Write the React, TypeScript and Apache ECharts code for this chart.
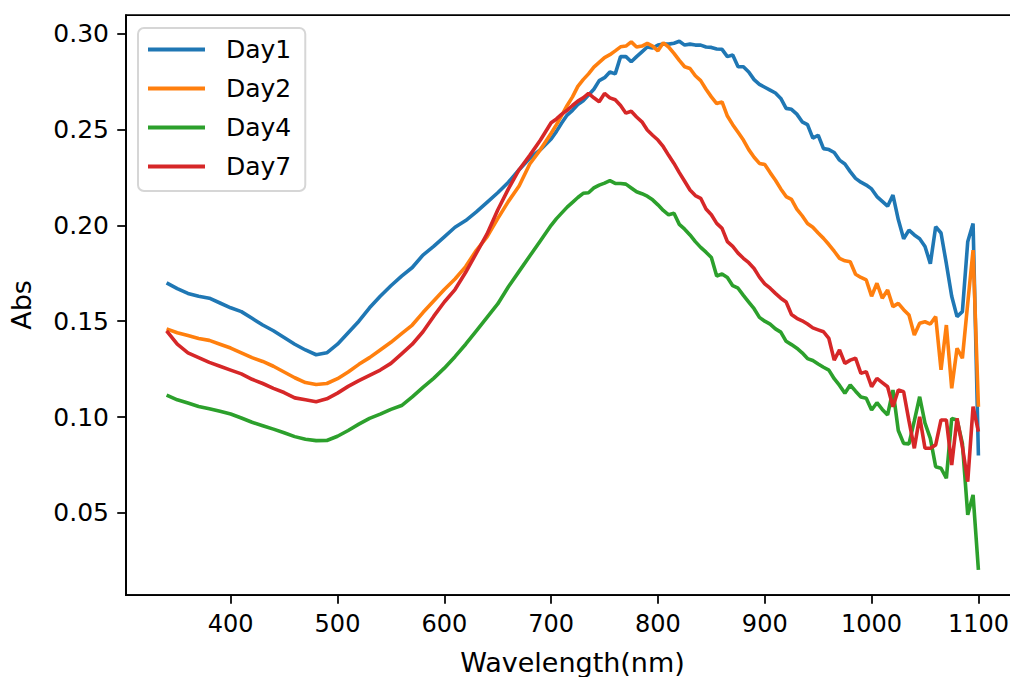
import React, { useEffect, useRef } from "react";
import * as echarts from "echarts";

// Wavelengths (nm): 10 nm steps up to 700, then 5 nm steps
const wavelengths = [
  340, 350, 360, 370, 380, 390, 400, 410, 420, 430,
  440, 450, 460, 470, 480, 490, 500, 510, 520, 530,
  540, 550, 560, 570, 580, 590, 600, 610, 620, 630,
  640, 650, 660, 670, 680, 690, 700,
  705, 710, 715, 720, 725, 730, 735, 740, 745, 750,
  755, 760, 765, 770, 775, 780, 785, 790, 795, 800,
  805, 810, 815, 820, 825, 830, 835, 840, 845, 850,
  855, 860, 865, 870, 875, 880, 885, 890, 895, 900,
  905, 910, 915, 920, 925, 930, 935, 940, 945, 950,
  955, 960, 965, 970, 975, 980, 985, 990, 995, 1000,
  1005, 1010, 1015, 1020, 1025, 1030, 1035, 1040, 1045, 1050,
  1055, 1060, 1065, 1070, 1075, 1080, 1085, 1090, 1095, 1100,
];

const day1 = [
  0.170, 0.167, 0.1645, 0.163, 0.162, 0.1595, 0.157, 0.155, 0.1515, 0.148,
  0.145, 0.1415, 0.138, 0.135, 0.1325, 0.1335, 0.138, 0.144, 0.150, 0.157,
  0.163, 0.1685, 0.1735, 0.178, 0.1845, 0.189, 0.194, 0.199, 0.2025, 0.207,
  0.212, 0.217, 0.2225, 0.229, 0.235, 0.2395, 0.245,
  0.249, 0.2535, 0.2575, 0.260, 0.263, 0.265, 0.268, 0.271, 0.2755, 0.277,
  0.280, 0.279, 0.288, 0.288, 0.2853, 0.288, 0.2905, 0.293, 0.2925, 0.294,
  0.2945, 0.2945, 0.295, 0.296, 0.294, 0.2945, 0.294, 0.294, 0.293, 0.2928,
  0.292, 0.2918, 0.288, 0.2888, 0.2827, 0.2827, 0.280, 0.276, 0.2735, 0.272,
  0.2705, 0.269, 0.2662, 0.261, 0.2605, 0.258, 0.254, 0.2525, 0.2455, 0.247,
  0.240, 0.2395, 0.238, 0.234, 0.232, 0.228, 0.2245, 0.2225, 0.221, 0.219,
  0.215, 0.2125, 0.210, 0.2158, 0.203, 0.193, 0.1975, 0.195, 0.193, 0.189,
  0.180, 0.1993, 0.196, 0.180, 0.163, 0.1524, 0.155, 0.1914, 0.201, 0.080,
];

const day2 = [
  0.146, 0.144, 0.1425, 0.141, 0.140, 0.138, 0.136, 0.1335, 0.131, 0.129,
  0.1265, 0.1235, 0.1205, 0.118, 0.117, 0.1175, 0.120, 0.1235, 0.1275, 0.131,
  0.135, 0.139, 0.1435, 0.148, 0.1545, 0.1605, 0.1665, 0.172, 0.1785, 0.187,
  0.194, 0.2035, 0.2125, 0.2205, 0.232, 0.2395, 0.248,
  0.2525, 0.2575, 0.2625, 0.267, 0.2725, 0.276, 0.279, 0.2825, 0.285, 0.2875,
  0.289, 0.291, 0.2931, 0.2935, 0.2957, 0.293, 0.2935, 0.2949, 0.2935, 0.291,
  0.2952, 0.293, 0.2897, 0.286, 0.2827, 0.2818, 0.278, 0.2755, 0.271, 0.267,
  0.2635, 0.2644, 0.257, 0.2525, 0.2485, 0.2445, 0.2395, 0.2355, 0.2323, 0.2317,
  0.2275, 0.2235, 0.219, 0.215, 0.2135, 0.2085, 0.205, 0.201, 0.199, 0.196,
  0.1932, 0.190, 0.1865, 0.1828, 0.1815, 0.181, 0.1745, 0.1728, 0.1715, 0.163,
  0.1698, 0.162, 0.1663, 0.1576, 0.1593, 0.156, 0.1532, 0.1428, 0.1489, 0.1497,
  0.1485, 0.1524, 0.1246, 0.148, 0.115, 0.1359, 0.1307, 0.1593, 0.1871, 0.1054,
];

const day4 = [
  0.1115, 0.109, 0.1073, 0.1055, 0.1043, 0.103, 0.1016, 0.0995, 0.0973, 0.0955,
  0.0937, 0.0918, 0.0898, 0.0884, 0.0877, 0.0878, 0.090, 0.093, 0.0963, 0.0993,
  0.1015, 0.104, 0.106, 0.1105, 0.1155, 0.1202, 0.1255, 0.1315, 0.138, 0.145,
  0.152, 0.159, 0.168, 0.176, 0.184, 0.192, 0.200,
  0.2035, 0.2065, 0.2095, 0.212, 0.2145, 0.2167, 0.217, 0.2195, 0.221, 0.222,
  0.2233, 0.2219, 0.2218, 0.2215, 0.2195, 0.2175, 0.2165, 0.2152, 0.2133, 0.2107,
  0.2078, 0.2055, 0.2063, 0.2005, 0.198, 0.195, 0.1915, 0.1885, 0.186, 0.1832,
  0.1736, 0.1746, 0.1728, 0.1685, 0.1672, 0.1635, 0.160, 0.1565, 0.152, 0.150,
  0.1485, 0.146, 0.1443, 0.1395, 0.1378, 0.1359, 0.1335, 0.1305, 0.1295, 0.1277,
  0.126, 0.1245, 0.120, 0.1165, 0.1124, 0.1167, 0.1135, 0.1105, 0.1098, 0.1037,
  0.1075, 0.104, 0.1011, 0.1141, 0.093, 0.0863, 0.086, 0.098, 0.1106, 0.0968,
  0.0889, 0.0741, 0.0733, 0.0681, 0.0993, 0.0985, 0.0863, 0.049, 0.0594, 0.0203,
];

const day7 = [
  0.145, 0.138, 0.1335, 0.131, 0.1285, 0.1265, 0.1245, 0.1225, 0.1197, 0.1175,
  0.115, 0.1128, 0.110, 0.109, 0.108, 0.1095, 0.1125, 0.116, 0.119, 0.1218,
  0.1245, 0.128, 0.133, 0.138, 0.1445, 0.1525, 0.160, 0.1665, 0.1755, 0.1855,
  0.1955, 0.208, 0.219, 0.229, 0.2365, 0.2445, 0.2535,
  0.2555, 0.258, 0.260, 0.2625, 0.2648, 0.2665, 0.2688, 0.2665, 0.2645, 0.2688,
  0.2665, 0.2655, 0.2625, 0.2585, 0.2595, 0.2565, 0.254, 0.2497, 0.247, 0.2445,
  0.241, 0.2365, 0.2323, 0.2275, 0.223, 0.2184, 0.2155, 0.2141, 0.2085, 0.2055,
  0.201, 0.1984, 0.1915, 0.189, 0.1855, 0.1828, 0.1805, 0.1775, 0.173, 0.1695,
  0.1672, 0.1645, 0.162, 0.160, 0.1535, 0.1515, 0.1502, 0.1485, 0.1465, 0.1455,
  0.1445, 0.141, 0.1297, 0.135, 0.128, 0.1297, 0.1307, 0.1228, 0.1237, 0.1158,
  0.1202, 0.118, 0.1158, 0.1054, 0.1141, 0.1132, 0.098, 0.0837, 0.1002, 0.0837,
  0.0837, 0.0855, 0.0985, 0.0985, 0.075, 0.0993, 0.0846, 0.0663, 0.1054, 0.0924,
];

const seriesNames = ["Day1", "Day2", "Day4", "Day7"];
const seriesValues = [day1, day2, day4, day7];
const colors = ["#1f77b4", "#ff7f0e", "#2ca02c", "#d62728"];
const xTicks = [400, 500, 600, 700, 800, 900, 1000, 1100];
const yTicks = [0.05, 0.1, 0.15, 0.2, 0.25, 0.3];

const FONT = "DejaVu Sans";

export default function App() {
  const ref = useRef<HTMLDivElement>(null);
  useEffect(() => {
    if (!ref.current) return;
    const chart = echarts.init(ref.current, undefined, { renderer: "svg" });
    const series = seriesNames.map((name, i) => ({
      name,
      type: "line",
      data: wavelengths.map((w, j) => [w, seriesValues[i][j]]),
      showSymbol: false,
      symbol: "none",
      lineStyle: { color: colors[i], width: 3.6 },
      itemStyle: { color: colors[i] },
      z: 2 + i,
    }));
    chart.setOption({
      animation: false,
      color: colors,
      grid: {
        left: 126,
        top: 15,
        right: 11,
        bottom: 82,
        show: true,
        borderColor: "#000",
        borderWidth: 1.75,
        containLabel: false,
        outerBoundsMode: "none",
      },
      legend: {
        data: seriesNames,
        orient: "vertical",
        left: 138,
        top: 28,
        padding: [9, 14, 12, 10],
        itemGap: 14,
        itemWidth: 73,
        itemHeight: 4,
        icon: "path://M0,0H57V4H0Z M73,4",
        textStyle: { fontSize: 25, fontFamily: FONT, color: "#000" },
        borderColor: "#d6d6d6",
        borderWidth: 2,
        borderRadius: 6,
        backgroundColor: "#fff",
      },
      xAxis: {
        type: "value",
        min: 302,
        max: 1138,
        name: "Wavelength(nm)",
        nameLocation: "middle",
        nameGap: 54,
        nameTextStyle: { fontSize: 27, fontFamily: FONT, color: "#000" },
        axisLine: { lineStyle: { color: "#000", width: 1.75 } },
        axisTick: {
          length: 8.75,
          lineStyle: { color: "#000", width: 1.75 },
          customValues: xTicks,
        },
        axisLabel: {
          customValues: xTicks,
          formatter: (v: number) => String(v),
          fontSize: 24,
          fontFamily: FONT,
          color: "#000",
          margin: 17,
        },
        splitLine: { show: false },
      },
      yAxis: {
        type: "value",
        min: 0.0072,
        max: 0.3097,
        name: "Abs",
        nameLocation: "middle",
        nameRotate: 90,
        nameGap: 91,
        nameTextStyle: { fontSize: 27, fontFamily: FONT, color: "#000" },
        axisLine: { show: true, lineStyle: { color: "#000", width: 1.75 } },
        axisTick: {
          show: true,
          length: 8.75,
          lineStyle: { color: "#000", width: 1.75 },
          customValues: yTicks,
        },
        axisLabel: {
          customValues: yTicks,
          formatter: (v: number) => v.toFixed(2),
          fontSize: 25,
          fontFamily: FONT,
          color: "#000",
          margin: 17,
        },
        splitLine: { show: false },
      },
      series,
    });
    return () => chart.dispose();
  }, []);
  return (
    <div
      ref={ref}
      style={{ position: "fixed", left: 0, top: 0, width: 1030, height: 677, background: "#fff" }}
    />
  );
}
